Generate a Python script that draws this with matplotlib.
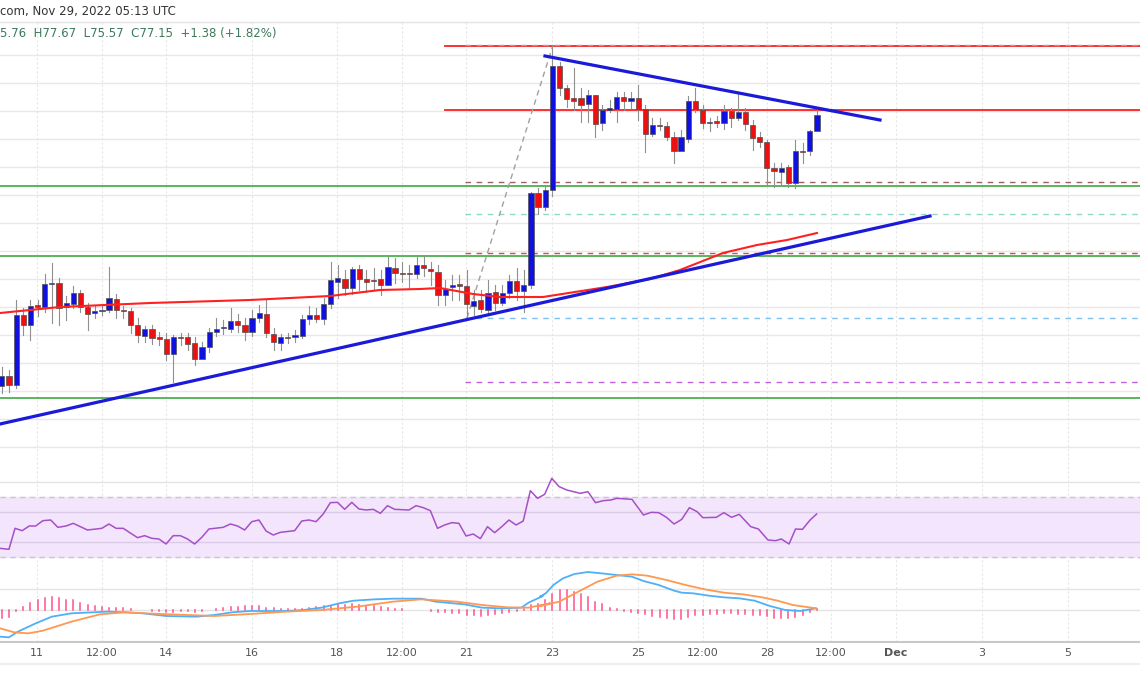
import matplotlib
matplotlib.use("Agg")
import matplotlib.pyplot as plt
import numpy as np

# ---- data (vertical values are in chart-pixel units, smaller = higher price) ----
opens = [386,376,385,315,325,305,307,284,283,307,304,293,307,313,311,310,299,310,311,325,
         336,329,337,339,354,337,337,343,359,347,332,328,329,321,325,332,318,314,334,343,
         337,337,336,319,315,319,304,282,279,288,269,279,280,279,285,268,273,273,274,265,
         269,272,295,287,284,286,306,300,310,292,303,293,281,291,285,193,207,190,66,88,
         98,98,104,95,123,110,109,97,101,98,109,134,125,126,137,151,139,101,110,123,
         121,123,111,118,112,125,137,142,168,172,167,183,151,151,131]
closes = [376,385,315,325,306,307,284,283,308,303,293,307,314,311,310,298,310,311,325,335,
          329,338,339,354,337,337.5,344,359,347,332,329,327,321,325,332,318,313,333,342,337,
          337,335,319,315,319,304,280,278,288,269,279,282,281,285,267,273,273.5,274,265,268,
          271,295,289,285,286,304,301,309,293,303,293,281,291,285,193,207,190,66,88,99,
          101,105,95,124,110,108,97,101,98,109,134,125,126,137,151,137,101,109,123,122,
          123,111,118,112,124,138,142,168,171,168,183,151,152,131,115]
highs = [367,370,300,308,300,300,274,263,278,296,286,290,303,306,305,267,294,306,308,318,
         326,325,332,333,335,333,333,337,342,328,318,320,308,314,318,310,305,300,328,334,
         333,330,315,306,308,298,262,265,270,267,265,270,268,270,257,258,262,265,256,255,
         262,265,280,275,275,270,290,290,280,285,285,275,268,270,192,188,185,45,62,85,
         68,88,90,95,105,100,92,92,92,85,105,118,118,122,132,130,96,88,105,118,
         116,105,108,94,108,120,132,140,163,163,165,140,143,130,108]
lows = [393,392,388,335,340,316,312,323,325,320,308,312,330,318,315,312,318,318,333,342,
        342,344,345,360,382,345,350,365,352,352,336,334,332,332,340,336,322,337,350,350,
        343,342,338,324,322,324,308,298,295,294,290,292,290,295,285,283,282,288,278,276,
        285,305,305,300,300,318,315,312,315,310,305,298,300,312,288,214,210,196,95,107,
        110,122,122,137,130,112,122,110,108,120,152,136,130,140,163,150,142,112,128,131,
        127,129,127,120,130,150,147,186,187,185,187,188,163,155,118]

ma_x = [0, 60, 150, 250, 330, 380, 420, 440, 473, 500, 543, 607, 650, 680, 723, 757, 787, 817]
ma_y = [313, 307, 303, 300, 296, 290, 289, 288, 294, 297, 297, 287, 279, 270, 253, 245, 240, 233]

rsi_z4 = [(0,265),(25,268),(42,205),(62,212),(82,198),(100,198),(120,182),(142,180),(162,202),(185,198),
          (205,190),(245,210),(285,205),(305,192),(325,205),(345,205),(385,233),(405,227),(425,235),(445,237),
          (465,252),(485,227),(505,227),(525,237),(545,252),(565,232),(585,207),(625,202),(645,192),(665,198),
          (685,210),(705,185),(725,180),(745,213),(765,225),(785,217),(825,212),(845,183),(865,180),(885,185),
          (905,162),(925,128),(945,127),(965,148),(985,127),(1005,147),(1025,150),(1045,148),(1065,160),(1085,137),
          (1105,148),(1145,150),(1165,137),(1185,143),(1205,152),(1225,205),(1245,195),(1265,188),(1285,190),(1305,228),
          (1325,222),(1345,236),(1365,200),(1385,218),(1405,200),(1425,180),(1445,195),(1465,183),(1485,92),(1505,115),
          (1525,103),(1545,55)]
rsi_z5 = [(50,80),(70,90),(105,100),(125,95),(145,128),(165,122),(185,120),(200,115),(240,118),(270,165),
          (290,157),(310,158),(330,172),(350,192),(370,178),(390,143),(410,155),(425,173),(460,172),(480,158),
          (500,172),(520,163),(550,200),(570,207),(595,240),(615,242),(630,237),(650,252),(667,207),(685,208),
          (705,180),(722,162)]

macd_z4 = [(0,530),(25,532),(50,515),(100,490),(145,470),(200,460),(300,455),(350,457),(400,460),(465,468),
           (550,470),(600,465),(650,457),(700,453),(800,453),(850,450),(900,443),(950,430),(990,422),(1050,418),
           (1100,416),(1180,416),(1220,425),(1300,433),(1350,443),(1400,445),(1460,443),(1480,428),(1520,408)]
macd_z5 = [(0,410),(15,400),(35,375),(60,355),(90,342),(125,336),(160,340),(200,345),(240,350),(270,363),
           (310,375),(350,392),(370,398),(400,400),(440,407),(480,412),(520,415),(560,422),(600,438),(640,450),
           (680,453),(720,445)]
sig_z4 = [(0,505),(40,517),(80,520),(120,512),(200,485),(280,463),(350,457),(450,462),(600,468),(700,462),
          (800,455),(900,450),(1000,440),(1100,425),(1180,418),(1280,425),(1350,435),(1420,442),(1480,443),(1540,430)]
sig_z5 = [(0,438),(50,425),(100,395),(150,365),(200,347),(240,343),(280,347),(330,360),(380,375),(430,388),
          (480,398),(530,403),(580,412),(620,422),(660,435),(720,445)]

hist = [-7.7,-7,-1,3,7,9.7,12,13,12.3,10.3,9.7,7,5.3,3.7,2.7,2.3,2,1.7,1,0.3,
        -0.3,-1,-1,-1.7,-2,-1.3,-1,-2,-1,0.3,1,2,3,3,3.7,4,3.7,2.3,1.7,1,
        0.7,0.7,1.3,2,3,4,4.3,5,5.3,5.7,5,4.3,3.7,2.7,2,1,0.7,0.3,0.3,0,
        -0.7,-1.7,-2.3,-3.3,-3.3,-4.7,-5,-5.7,-4.7,-4,-3,-2.3,-1,1,4.7,5.7,9.7,16.3,19.7,19.7,
        18,15.7,13,8,5.7,2,0.7,-1,-2,-3,-4.3,-6,-7,-7.7,-8.7,-8.7,-7,-5.3,-4.7,-4.3,
        -3.7,-3,-3,-3.7,-3.7,-4.7,-5.3,-6.3,-7.7,-7.7,-8.3,-7,-5.3,-2,0.7]

tick_x = [37, 102, 166, 252, 337, 402, 466, 552, 638, 703, 767, 831, 896, 982, 1068]
tick_labels = ["11", "12:00", "14", "16", "18", "12:00", "21", "23", "25", "12:00", "28", "12:00", "Dec", "3", "5"]

# ---- figure ----
W, H = 1140, 694
fig = plt.figure(figsize=(W/100, H/100), dpi=100)
ax = fig.add_axes([0, 0, 1, 1])
ax.set_xlim(0, W); ax.set_ylim(H, 0); ax.axis("off")

# grid
for y in list(range(55, 450, 28)):
    ax.plot([0, W], [y, y], color="#e8e8e8", lw=1, zorder=0)
for y in [22, 482, 512, 542, 589, 610]:
    ax.plot([0, W], [y, y], color="#e4e4e4", lw=1, zorder=0)
for x in tick_x:
    ax.plot([x, x], [22, 642], color="#e6e6e6", lw=0.8, ls=(0, (2, 2)), zorder=0)

# RSI band
ax.fill_between([0, W], 497, 557, color="#f3e5fc", zorder=0)
for y in [497, 557]:
    ax.plot([0, W], [y, y], color="#c8c8c8", lw=1, ls=(0, (4, 3)), zorder=1)
for y in [512, 542]:
    ax.plot([0, W], [y, y], color="#dccbe6", lw=1, zorder=1)

# horizontal levels
for y in [186, 256, 398]:
    ax.plot([0, W], [y, y], color="#4caf50", lw=1.3, zorder=2)
for y in [46, 110]:
    ax.plot([445, W], [y, y], color="#ff1f1f", lw=1.3, zorder=2)
for y, c in [(45, "#a0a0a0"), (182, "#a06060"), (214, "#90d8c8"), (253, "#d05050"), (318, "#7ec0ee"), (382, "#c060e0")]:
    ax.plot([465, W], [y, y], color=c, lw=1, ls=(0, (4, 4)), zorder=2)
ax.plot([467, 553], [318, 45], color="#a0a0a0", lw=1, ls=(0, (4, 3)), zorder=2)

# candles
n = len(opens)
xs = 1.8 + 7.15 * np.arange(n)
for x, o, c, h, l in zip(xs, opens, closes, highs, lows):
    col = "#1010e0" if c < o else "#ee1010"
    ax.plot([x, x], [h, l], color="#909090", lw=0.8, zorder=3)
    top, bot = min(o, c), max(o, c)
    ax.add_patch(plt.Rectangle((x - 2.6, top), 5.2, max(bot - top, 1), facecolor=col,
                               edgecolor="#505050", lw=0.5, zorder=4))

# MA
ax.plot(ma_x, ma_y, color="#ff2020", lw=1.5, zorder=5)
# trendlines
ax.plot([0, 930], [424, 216], color="#1a1ad8", lw=2.3, zorder=6)
ax.plot([545, 880], [56, 120], color="#1a1ad8", lw=2.3, zorder=6)

# RSI
rx = [p[0] / 2.8 for p in rsi_z4] + [540 + p[0] / 2.61 for p in rsi_z5]
ry = [460 + p[1] / 3 for p in rsi_z4] + [460 + p[1] / 3 for p in rsi_z5]
ax.plot(rx, ry, color="#a64fc8", lw=1.1, zorder=5)

# MACD
zero = 610
for x, hv in zip(xs, hist):
    ax.plot([x, x], [zero, zero - hv], color="#ff4f8b", lw=1.1, zorder=4)
mx = [p[0] / 2.8 for p in macd_z4] + [540 + p[0] / 2.61 for p in macd_z5]
my = [460 + p[1] / 3 for p in macd_z4] + [460 + p[1] / 3 for p in macd_z5]
ax.plot(mx, my, color="#4fb0f8", lw=1.3, zorder=5)
sx = [p[0] / 2.8 for p in sig_z4] + [540 + p[0] / 2.61 for p in sig_z5]
sy = [460 + p[1] / 3 for p in sig_z4] + [460 + p[1] / 3 for p in sig_z5]
ax.plot(sx, sy, color="#ff9850", lw=1.3, zorder=5)

# time axis
ax.plot([0, W], [642, 642], color="#c8c8c8", lw=1.5)
ax.plot([0, W], [664, 664], color="#eeeeee", lw=1.5)
for x, t in zip(tick_x, tick_labels):
    ax.text(x, 653, t, ha="center", va="center", fontsize=8, color="#555555",
            fontweight="bold" if t == "Dec" else "normal", family="DejaVu Sans")

# header
ax.text(0, 11, "com, Nov 29, 2022 05:13 UTC", ha="left", va="center", fontsize=8.5, color="#333333")
ax.text(0, 33, "5.76  H77.67  L75.57  C77.15  +1.38 (+1.82%)", ha="left", va="center",
        fontsize=8.5, color="#3d7a5c")

fig.savefig("out.png", dpi=100)
